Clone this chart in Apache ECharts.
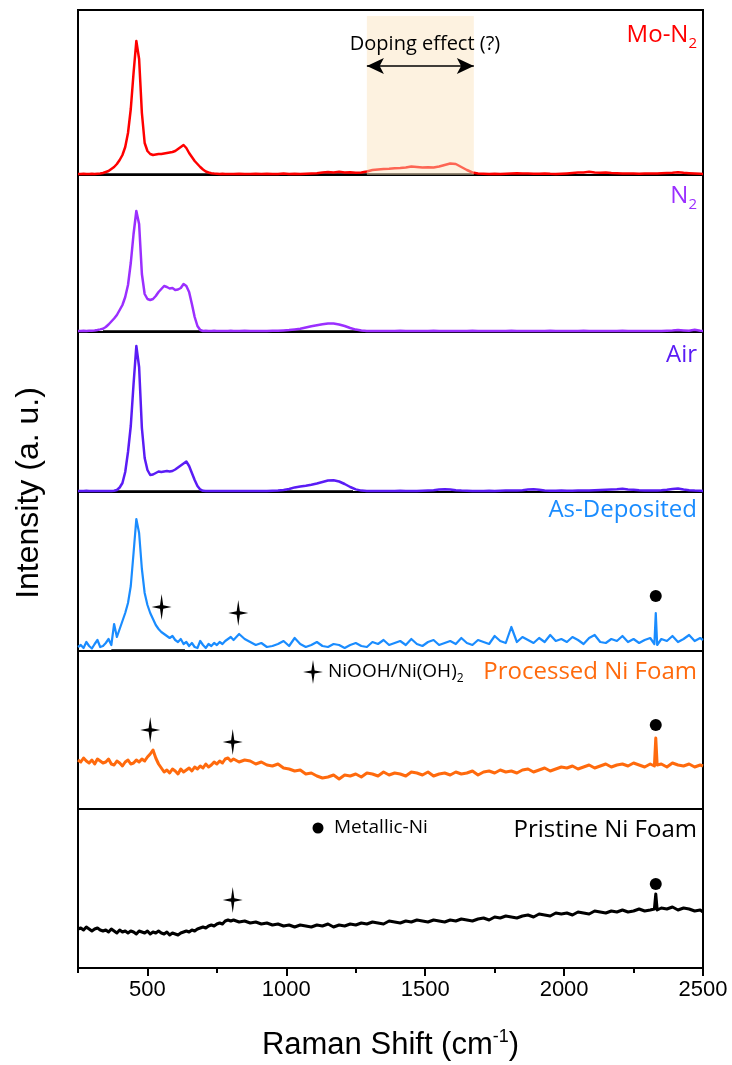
<!DOCTYPE html>
<html>
<head>
<meta charset="utf-8">
<title>Raman spectra</title>
<script src="https://cdn.jsdelivr.net/npm/echarts/dist/echarts.min.js"></script>
<style>
  html, body { margin: 0; padding: 0; background: #fff; }
  #chart { width: 732px; height: 1065px; }
</style>
</head>
<body>
<div id="chart"></div>
<script>
// Raman shift (cm-1) sample positions shared by every spectrum
const ramanShift = [
  250, 260, 270, 280, 290, 300, 310, 320, 330, 340,
  350, 360, 370, 380, 390, 400, 410, 420, 430, 440,
  450, 460, 470, 480, 490, 500, 510, 520, 530, 540,
  550, 560, 570, 580, 590, 600, 610, 620, 630, 640,
  650, 660, 670, 680, 690, 700, 710, 720, 730, 740,
  750, 760, 770, 780, 790, 800,
  810, 830, 850, 870, 890, 910, 930, 950, 970, 990,
  1010, 1030, 1050, 1070, 1090, 1110, 1130, 1150, 1170, 1190,
  1210, 1230, 1250, 1270, 1290, 1310, 1330, 1350, 1370, 1390,
  1410, 1430, 1450, 1470, 1490, 1510, 1530, 1550, 1570, 1590,
  1610, 1630, 1650, 1670, 1690, 1710, 1730, 1750, 1770, 1790,
  1810, 1830, 1850, 1870, 1890, 1910, 1930, 1950, 1970, 1990,
  2010, 2030, 2050, 2070, 2090, 2110, 2130, 2150, 2170, 2190,
  2210, 2230, 2250, 2270, 2290, 2310,
  2325, 2330, 2335, 2350, 2370, 2390, 2410, 2430, 2450, 2470, 2490, 2500
]

// intensities (a.u., offset within each panel)
const moN2 = [
  1, 1, 1.2, 1, 1, 1.2, 1, 1.3, 1.5, 2,
  3, 4, 6, 8, 11, 15, 20, 28, 42, 66,
  102, 134, 116, 62, 32, 24, 21, 20, 20.5, 21,
  21, 21.5, 22, 22.5, 23, 24, 26, 28, 30, 27,
  22, 18, 14, 11, 8, 5.5, 3.5, 2.5, 1.8, 1.4,
  1.2, 1, 1.2, 1, 1, 1,
  1, 1.2, 1, 1, 1.3, 1, 1.2, 1, 1, 1.4,
  1, 1.2, 1.1, 1.3, 1.5, 1.8, 2.5, 3, 2.6, 3.2,
  2.4, 2.8, 2.2, 2.6, 3.5, 5, 5.5, 6, 6.2, 6.8,
  7, 7.5, 8.5, 8, 7.5, 7.8, 7.5, 8.5, 10, 11.5,
  11, 8, 5, 2.5, 1.5, 1.2, 1, 1.3, 1, 1.2,
  1.5, 1.8, 1.4, 1.6, 1.3, 1.2, 1.5, 1.2, 1.1, 1.3,
  1.6, 2, 2.4, 2.6, 3.2, 2.5, 2.2, 2.6, 2, 1.8,
  1.6, 1.4, 1.6, 1.3, 1.5, 1.4,
  1.5, 1.6, 1.5, 1.8, 2, 2.2, 2.8, 2.2, 1.8, 1.5, 1.2, 1
]
const n2 = [
  1, 1, 1.2, 1, 1.2, 1.3, 1.5, 2, 2.6, 3.3,
  5, 7.5, 10.5, 13.5, 17, 22, 27, 35, 47, 69,
  98, 121, 108, 58, 38, 33, 32, 33, 36, 40,
  43, 46, 45, 43.5, 44, 42, 42.5, 44, 48, 46,
  40, 28, 15, 6, 2, 1, 1.2, 1, 1, 1.2,
  1, 1, 1.1, 1, 1, 1.2,
  1, 1, 1.2, 1, 1, 1.1, 1, 1.2, 1.3, 1.6,
  2, 2.6, 3.3, 4.5, 5.8, 6.8, 7.8, 8.6, 8.4, 7.5,
  6, 4, 2.4, 1.5, 1.1, 1, 1, 1.1, 1, 1,
  1.2, 1, 1, 1.1, 1, 1, 1.2, 1, 1, 1,
  1.1, 1, 1, 1.2, 1, 1, 1, 1.1, 1, 1,
  1.2, 1, 1, 1, 1.1, 1, 1, 1.2, 1, 1,
  1.1, 1, 1, 1.2, 1, 1, 1, 1.1, 1, 1,
  1.2, 1, 1, 1.1, 1, 1,
  1, 1.2, 1, 1.1, 1.3, 1.5, 2, 1.6, 1.3, 2.2, 1.2, 1
]
const air = [
  1, 1, 1, 1.2, 1, 1, 1, 1.1, 1, 1,
  1, 1.1, 1, 1.2, 2, 4.5, 9, 20, 40, 66,
  108, 146, 125, 64, 34, 22, 17, 17.5, 19, 20.5,
  20, 20.5, 21, 20.5, 21, 22.5, 24.5, 26.5, 28.5, 30.5,
  26, 19, 12, 6, 2.5, 1.2, 1, 1, 1.1, 1,
  1, 1, 1, 1.1, 1, 1,
  1, 1, 1, 1.1, 1, 1, 1.1, 1.2, 1.4, 2,
  3, 4.6, 5.5, 6.3, 7.3, 8.5, 10, 11.5, 11.8, 10.5,
  8, 5, 2.6, 1.4, 1.1, 1, 1, 1.1, 1, 1,
  1.2, 1, 1.1, 1, 1.2, 1.5, 1.8, 2.4, 2.8, 2.5,
  1.8, 1.4, 1.2, 1, 1.1, 1, 1.2, 1, 1.3, 1.5,
  1.4, 1.6, 1.8, 2.4, 2.8, 2.2, 1.6, 1.3, 1.2, 1.4,
  1.2, 1.3, 1.5, 1.4, 1.6, 1.8, 2, 2.2, 2.5, 2.7,
  3.2, 2.6, 2.2, 1.8, 1.6, 1.5,
  1.6, 1.5, 1.6, 1.8, 2.2, 3, 3.6, 2.6, 1.8, 1.4, 1.2, 1
]
const asDeposited = [
  4, 6, 3, 9, 5, 2.5, 7, 11, 4, 5,
  8, 12, 6, 27, 14, 22, 30, 38, 48, 65,
  98, 132, 118, 82, 58, 46, 38, 32, 26, 22,
  19, 17, 15, 13, 15, 11, 9, 12, 7, 9,
  5, 8, 4, 3, 10, 6, 3, 7, 5, 8,
  6, 9, 7, 10, 12, 14,
  11, 17, 12, 9, 6, 8, 4, 5, 7, 10,
  5, 13, 7, 4, 6, 9, 5, 4, 7, 6,
  3, 6, 8, 5, 4, 9, 7, 11, 6, 8,
  10, 6, 12, 7, 5, 9, 11, 6, 8, 10,
  7, 13, 8, 6, 11, 9, 7, 15, 10, 8,
  24, 9, 14, 11, 8, 13, 9, 16, 10, 12,
  9, 14, 11, 7, 13, 16, 9, 8, 12, 10,
  15, 9, 12, 8, 11, 13,
  7, 38, 6, 12, 10, 15, 9, 12, 16, 10, 13, 11
]
const processedFoam = [
  49, 47, 51, 48, 46, 49, 45, 50, 48, 46,
  47, 50, 45, 44, 48, 46, 43, 47, 49, 45,
  46, 49, 47, 50, 48, 52, 55, 59, 51, 45,
  41, 37, 39, 36, 40, 38, 35, 40, 37, 39,
  41, 38, 42, 40, 43, 41, 45, 42, 44, 47,
  45, 48, 46, 50, 51, 48,
  50, 47, 49, 48, 45, 47, 44, 43, 45, 41,
  40, 38, 39, 35, 36, 33, 31, 32, 34, 30,
  34, 33, 35, 32, 36, 35, 33, 37, 34, 36,
  35, 33, 37, 36, 34, 37, 33, 35, 36, 34,
  37, 35, 36, 38, 34, 37, 38, 36, 39, 37,
  38, 36, 39, 40, 37, 39, 41, 38, 40, 42,
  41, 43, 40, 42, 44, 41, 43, 45, 42, 44,
  45, 43, 46, 44, 42, 45,
  43, 71, 44, 45, 42, 46, 44, 43, 45, 42, 44, 43
]
const pristineFoam = [
  39, 40, 38, 41, 39, 37, 39, 40, 38, 37,
  38, 36, 39, 37, 35, 38, 36, 37, 35, 37,
  36, 34, 37, 36, 35, 37, 34, 36, 35, 37,
  35, 34, 36, 33, 35, 34, 33, 35, 36, 37,
  36, 38, 37, 39, 40, 41, 40, 42, 43, 42,
  44, 45, 44, 47, 48, 47,
  48, 46, 47, 45, 46, 44, 45, 43, 44, 42,
  43, 41, 43, 42, 41, 43, 42, 44, 41, 43,
  42, 44, 43, 45, 44, 46, 45, 44, 47, 46,
  45, 47, 46, 48, 47, 46, 48, 47, 46, 48,
  47, 49, 48, 47, 49, 50, 48, 51, 50, 52,
  51, 50, 52, 53, 51, 54, 53, 52, 55, 54,
  55, 53, 56, 55, 54, 57, 56, 55, 57, 56,
  58, 56, 57, 59, 57, 58,
  59, 74, 58, 60, 59, 61, 58, 60, 59, 57, 58, 56
]

// x axis ticks
const tickLabels = [500, 1000, 1500, 2000, 2500]
const minorTicks = [250, 750, 1250, 1750, 2250]

// black baseline pieces under the peaks (panels 1-4)
const baselineSegments = [
  [[335, 730], [1120, 1670]],
  [[340, 700], [1010, 1290]],
  [[390, 700], [1000, 1240]],
  [[370, 635]]
]

// peak markers: [panel, raman shift, level]
const starMarks = [[3, 551, 44], [3, 827, 38], [4, 510, 79], [4, 807, 67], [5, 807, 68]]
const dotMarks = [[3, 2330, 55], [4, 2330, 84], [5, 2330, 84]]

// "doping effect" band in the top panel
const shadeRange = [1290, 1675]
const shadeTop = 159
const arrowLevel = 109

const spectra = [moN2, n2, air, asDeposited, processedFoam, pristineFoam]
spectra.forEach((s, i) => {
  if (s.length !== ramanShift.length) throw new Error('series ' + i + ' has ' + s.length + ' points')
})

const colors = ['#ff0000', '#9b2fff', '#5a1cf5', '#1a8cff', '#ff6a0d', '#000000']
const lineWidths = [2.5, 2.5, 2.5, 2.2, 3, 3]
const panels = [
  { top: 10, height: 165 },
  { top: 175, height: 157 },
  { top: 332, height: 160 },
  { top: 492, height: 159 },
  { top: 651, height: 158 },
  { top: 809, height: 159 }
]
const starPath = 'path://M0,-12 L1.6,-1.6 L10,0 L1.6,1.6 L0,12 L-1.6,1.6 L-10,0 L-1.6,-1.6 Z'
const starPoints = [[0, -12], [1.6, -1.6], [10, 0], [1.6, 1.6], [0, 12], [-1.6, 1.6], [-10, 0], [-1.6, -1.6]]
const labelFont = 'Open Sans'
const axisFont = 'Liberation Sans'

const chart = echarts.init(document.getElementById('chart'))

const grid = panels.map(p => ({
  left: 78, width: 625, top: p.top, height: p.height,
  show: true, borderColor: '#000', borderWidth: 2, backgroundColor: 'transparent'
}))

const xAxis = panels.map((p, i) => {
  const last = i === panels.length - 1
  return {
    gridIndex: i, type: 'value', min: 250, max: 2500, position: 'bottom',
    show: last,
    axisLine: { show: last, onZero: false, lineStyle: { color: '#000', width: 2 } },
    axisTick: { show: last, length: 8, lineStyle: { color: '#000', width: 2 }, customValues: tickLabels },
    axisLabel: {
      show: last, customValues: tickLabels, fontSize: 22, fontFamily: axisFont, color: '#000', margin: 11,
      formatter: v => String(v)
    },
    splitLine: { show: false },
    splitArea: { show: false },
    name: last ? 'Raman Shift (cm{sup|-1})' : '',
    nameLocation: 'middle',
    nameGap: 60,
    nameTextStyle: {
      fontSize: 31, fontFamily: axisFont, color: '#000', lineHeight: 34,
      rich: { sup: { fontSize: 18, fontFamily: axisFont, color: '#000', verticalAlign: 'top', lineHeight: 18 } }
    }
  }
})
xAxis.push({
  gridIndex: 5, type: 'value', min: 250, max: 2500, position: 'bottom',
  axisLine: { show: false, onZero: false },
  axisTick: { show: true, length: 5, lineStyle: { color: '#000', width: 2 }, customValues: minorTicks },
  axisLabel: { show: false },
  splitLine: { show: false },
  splitArea: { show: false }
})

const yAxis = panels.map((p, i) => ({
  gridIndex: i, type: 'value', min: 0, max: p.height, show: false
}))

const series = []
spectra.forEach((s, i) => {
  series.push({
    type: 'line', xAxisIndex: i, yAxisIndex: i,
    data: ramanShift.map((x, k) => [x, s[k]]),
    symbol: 'none', z: 3,
    lineStyle: { color: colors[i], width: lineWidths[i], join: 'round' }
  })
})
baselineSegments.forEach((segs, i) => {
  const data = []
  segs.forEach(seg => {
    data.push([seg[0], 0.6], [seg[1], 0.6], [seg[1], '-'])
  })
  series.push({
    type: 'line', xAxisIndex: i, yAxisIndex: i, data, symbol: 'none', z: 2,
    lineStyle: { color: '#000', width: 2.5 }
  })
})
for (let p = 3; p < 6; p++) {
  series.push({
    type: 'scatter', xAxisIndex: p, yAxisIndex: p, symbol: starPath, symbolSize: [20, 26],
    itemStyle: { color: '#000', opacity: 1 }, z: 5, silent: true,
    data: starMarks.filter(m => m[0] === p).map(m => [m[1], m[2]])
  })
  series.push({
    type: 'scatter', xAxisIndex: p, yAxisIndex: p, symbol: 'circle', symbolSize: 12,
    itemStyle: { color: '#000', opacity: 1 }, z: 5, silent: true,
    data: dotMarks.filter(m => m[0] === p).map(m => [m[1], m[2]])
  })
}
series.push({
  type: 'line', xAxisIndex: 0, yAxisIndex: 0, data: [], z: 4,
  markArea: {
    silent: true, z: 4,
    itemStyle: { color: 'rgba(250,226,186,0.45)' },
    data: [[{ coord: [shadeRange[0], 0] }, { coord: [shadeRange[1], shadeTop] }]]
  },
  markLine: {
    silent: true, symbol: ['arrow', 'arrow'], symbolSize: [12, 17],
    lineStyle: { color: '#000', width: 1.5, type: 'solid' },
    label: { show: false },
    data: [[{ coord: [shadeRange[0], arrowLevel] }, { coord: [shadeRange[1], arrowLevel] }]]
  }
})

function label(text, y, color, sub) {
  const rich = {
    m: { fontSize: 24, fontFamily: labelFont, fill: color, lineHeight: 32 },
    s: { fontSize: 15, fontFamily: labelFont, fill: color, verticalAlign: 'bottom', lineHeight: 16 }
  }
  return {
    type: 'text', x: 697, y, z: 10,
    style: { text: '{m|' + text + '}' + (sub ? '{s|' + sub + '}' : ''), align: 'right', verticalAlign: 'middle', rich }
  }
}

const graphic = [
  {
    type: 'text', x: 29, y: 493, rotation: Math.PI / 2, z: 10,
    style: { text: 'Intensity (a. u.)', fontSize: 32, fontFamily: axisFont, fill: '#000', align: 'center', verticalAlign: 'middle' }
  },
  label('Mo-N', 35, colors[0], '2'),
  label('N', 196, colors[1], '2'),
  label('Air', 355, colors[2]),
  label('As-Deposited', 510, colors[3]),
  label('Processed Ni Foam', 672, colors[4]),
  label('Pristine Ni Foam', 830, '#000'),
  {
    type: 'text', x: 425, y: 44, z: 10,
    style: { text: 'Doping effect (?)', fontSize: 20, fontFamily: labelFont, fill: '#000', align: 'center', verticalAlign: 'middle' }
  },
  { type: 'polygon', x: 313, y: 672, z: 10, shape: { points: starPoints }, style: { fill: '#000' } },
  {
    type: 'text', x: 328, y: 672, z: 10,
    style: {
      text: '{m|NiOOH/Ni(OH)}{s|2}', align: 'left', verticalAlign: 'middle',
      rich: {
        m: { fontSize: 19, fontFamily: labelFont, fill: '#000', lineHeight: 26 },
        s: { fontSize: 12, fontFamily: labelFont, fill: '#000', verticalAlign: 'bottom', lineHeight: 13 }
      }
    }
  },
  { type: 'circle', z: 10, shape: { cx: 318, cy: 828, r: 5.5 }, style: { fill: '#000' } },
  {
    type: 'text', x: 334, y: 828, z: 10,
    style: { text: 'Metallic-Ni', fontSize: 19, fontFamily: labelFont, fill: '#000', align: 'left', verticalAlign: 'middle' }
  }
]

chart.setOption({
  animation: false,
  backgroundColor: '#fff',
  grid,
  xAxis,
  yAxis,
  series,
  graphic
})
</script>
</body>
</html>
